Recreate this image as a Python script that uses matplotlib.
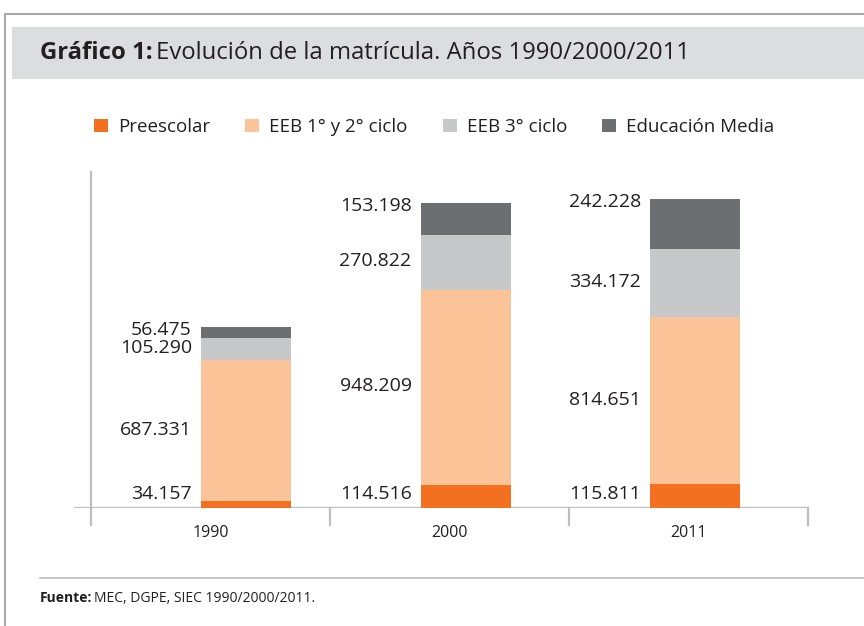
import matplotlib.pyplot as plt
import matplotlib.transforms as mtransforms
from matplotlib.patches import Rectangle
from matplotlib.lines import Line2D
import numpy as np

plt.rcParams['font.family'] = ['Open Sans', 'DejaVu Sans']

# datos
years = ['1990', '2000', '2011']
series = ['Preescolar', 'EEB 1° y 2° ciclo', 'EEB 3° ciclo', 'Educación Media']
preescolar = [34157, 114516, 115811]
eeb12 = [687331, 948209, 814651]
eeb3 = [105290, 270822, 334172]
media = [56475, 153198, 242228]
colors = ['#F37021', '#FBC498', '#C7C8CA', '#6D6E71']

W, H = 864, 626
fig = plt.figure(figsize=(8.64, 6.26), dpi=100)
renderer = fig.canvas.get_renderer()

def fx(px):
    return px / W

def fy(py):
    return 1 - py / H

def bold_then_normal(x, y, bold, rest, size, gap=0.004):
    # texto en negrita seguido de texto normal
    t = fig.text(x, y, bold, fontsize=size, fontweight='bold', va='center', color='#231F20')
    bb = t.get_window_extent(renderer)
    fig.text(bb.x1 / W + gap, y, rest, fontsize=size, va='center', color='#231F20')

# marco y banda del titulo
fig.add_artist(Line2D([fx(5), 1], [fy(14), fy(14)], color='#A7A9AC', lw=1.5))
fig.add_artist(Line2D([fx(5), fx(5)], [fy(14), 0], color='#A7A9AC', lw=1.5))
fig.add_artist(Rectangle((fx(12), fy(79)), 1 - fx(12), fy(27) - fy(79),
                         color='#DCDDDE', lw=0))
bold_then_normal(fx(40), fy(53), 'Gráfico 1:',
                 'Evolución de la matrícula. Años 1990/2000/2011', 17.2)

# eje
ax_left, ax_right, ax_bot, ax_top = 74, 808, 508, 172
ax = fig.add_axes([fx(ax_left), fy(ax_bot), fx(ax_right) - fx(ax_left), fy(ax_top) - fy(ax_bot)])
unit = (ax_right - 91) / 3.0
ax.set_xlim(-(91 - ax_left) / unit, 3)
ymax = 1638500
ax.set_ylim(0, ymax)
ax.axis('off')

grey = '#BCBEC0'
ax.axhline(0, color=grey, lw=1.6, zorder=1)
ax.plot([0, 0], [0, ymax], color=grey, lw=1.6, zorder=1, clip_on=False)
trans = mtransforms.blended_transform_factory(ax.transData, ax.transAxes)
for i in range(4):
    ax.plot([i, i], [0, -0.051], color=grey, lw=1.6, transform=trans, clip_on=False)
for i, yr in enumerate(years):
    ax.text(i + 0.5, -0.075, yr, transform=trans, ha='center', va='center',
            fontsize=11.5, color='#231F20')

# barras
xpos = np.array([0.648, 1.568, 2.527])
width = 0.377
data = [preescolar, eeb12, eeb3, media]
px_val = ymax / (ax_bot - ax_top)
bottom = np.zeros(3)
for k, vals in enumerate(data):
    vals = np.array(vals, dtype=float)
    ax.bar(xpos, vals, width, bottom=bottom, color=colors[k], lw=0, zorder=2)
    for j in range(3):
        mid = bottom[j] + vals[j] / 2
        if k == 0:
            ly = 14 * px_val
        elif k == 3:
            ly = bottom[j] + vals[j] - min(vals[j] / 2, 3 * px_val)
        else:
            ly = mid + 1 * px_val
        lab = f'{int(vals[j]):,}'.replace(',', '.')
        ax.text(xpos[j] - width / 2 - 9 / unit, ly, lab, ha='right', va='center',
                fontsize=14, color='#231F20')
    bottom += vals

# leyenda
handles = [Rectangle((0, 0), 1, 1, color=c, lw=0) for c in colors]
fig.legend(handles, series, loc='center left', bbox_to_anchor=(fx(77), fy(127)),
           ncol=4, frameon=False, fontsize=13.5, handlelength=0.75, handleheight=0.75,
           handletextpad=0.55, columnspacing=1.85, labelcolor='#231F20')

# fuente
fig.add_artist(Line2D([fx(40), 1], [fy(578), fy(578)], color='#BCBEC0', lw=1.2))
bold_then_normal(fx(40), fy(598), 'Fuente:', 'MEC, DGPE, SIEC 1990/2000/2011.', 10, gap=0.002)

fig.savefig('out.png', dpi=100)
